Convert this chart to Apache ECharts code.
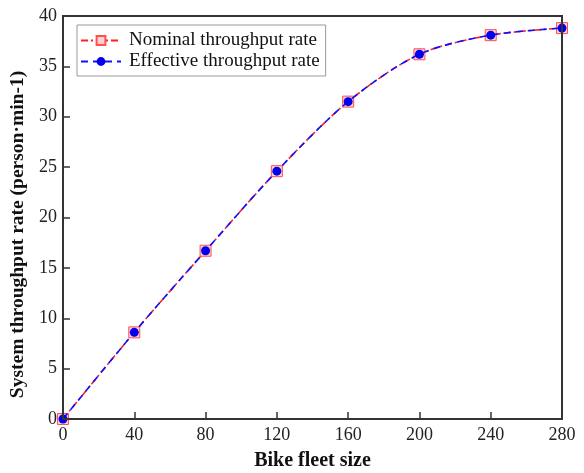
<!DOCTYPE html>
<html><head><meta charset="utf-8">
<script src="https://cdn.jsdelivr.net/npm/echarts@6/dist/echarts.min.js"></script>
<style>html,body{margin:0;padding:0;background:#fff}#c{width:584px;height:473px}</style>
</head><body><div id="c"></div>
<script>
const fleetSize = [0, 40, 80, 120, 160, 200, 240, 280];
const nominalRate = [0, 8.6, 16.7, 24.6, 31.5, 36.2, 38.1, 38.8];
const effectiveRate = [0, 8.6, 16.7, 24.6, 31.5, 36.2, 38.1, 38.8];
const xTicks = [0, 40, 80, 120, 160, 200, 240, 280];
const yTicks = [0, 5, 10, 15, 20, 25, 30, 35, 40];

const font = '"Liberation Serif", "Times New Roman", serif';
const chart = echarts.init(document.getElementById('c'), null, {renderer: 'canvas'});
const axisCommon = {
  axisLine: {show: true, onZero: false, lineStyle: {color: '#333', width: 2}},
  axisTick: {show: true, inside: true, length: 7, lineStyle: {color: '#333', width: 1.5}},
  splitLine: {show: false},
  axisLabel: {fontFamily: font, fontSize: 18, color: '#222'},
  nameTextStyle: {fontFamily: font, fontSize: 20, fontWeight: 'bold', color: '#111'}
};
chart.setOption({
  animation: false,
  backgroundColor: '#fff',
  grid: {left: 63, right: 22, top: 16, bottom: 54, containLabel: false, outerBoundsMode: 'none'},
  legend: {
    left: 77, top: 25, orient: 'vertical',
    backgroundColor: '#fff', borderColor: '#999', borderWidth: 1,
    padding: [6, 6, 5, 3], itemGap: 2, itemWidth: 40, itemHeight: 11,
    textStyle: {fontFamily: font, fontSize: 19, color: '#111', padding: [0, 0, 0, 3]},
    data: ['Nominal throughput rate', 'Effective throughput rate']
  },
  xAxis: Object.assign({}, axisCommon, {
    type: 'value', min: 0, max: 280, interval: 40,
    name: 'Bike fleet size', nameLocation: 'middle', nameGap: 32,
    axisLabel: Object.assign({}, axisCommon.axisLabel, {margin: 7, formatter: v => xTicks.includes(v) ? String(v) : ''})
  }),
  yAxis: Object.assign({}, axisCommon, {
    type: 'value', min: 0, max: 40, interval: 5,
    name: 'System throughput rate (person·min-1)', nameLocation: 'middle', nameGap: 33,
    nameTextStyle: Object.assign({}, axisCommon.nameTextStyle, {fontSize: 19.5, padding: [0, 34, 0, 0]}),
    axisLabel: Object.assign({}, axisCommon.axisLabel, {margin: 6, formatter: v => yTicks.includes(v) ? String(v) : ''})
  }),
  series: [
    {
      name: 'Nominal throughput rate', type: 'line', smooth: 0.3,
      data: fleetSize.map((x, i) => [x, nominalRate[i]]),
      symbol: 'rect', symbolSize: 11, showAllSymbol: true,
      lineStyle: {color: '#ff2020', width: 1.6, type: [7, 3, 2, 3]},
      itemStyle: {color: '#ffd0d0', borderColor: '#ff5050', borderWidth: 1},
      z: 2
    },
    {
      name: 'Effective throughput rate', type: 'line', smooth: 0.3,
      data: fleetSize.map((x, i) => [x, effectiveRate[i]]),
      symbol: 'circle', symbolSize: 9, showAllSymbol: true,
      lineStyle: {color: '#1010ff', width: 1.6, type: [7, 5]},
      itemStyle: {color: '#0000ee'},
      z: 3
    }
  ],
  graphic: [{
    type: 'rect', shape: {x: 63, y: 16, width: 499, height: 403},
    style: {fill: 'none', stroke: '#333', lineWidth: 2}, silent: true, z: 10
  }]
});
</script></body></html>
